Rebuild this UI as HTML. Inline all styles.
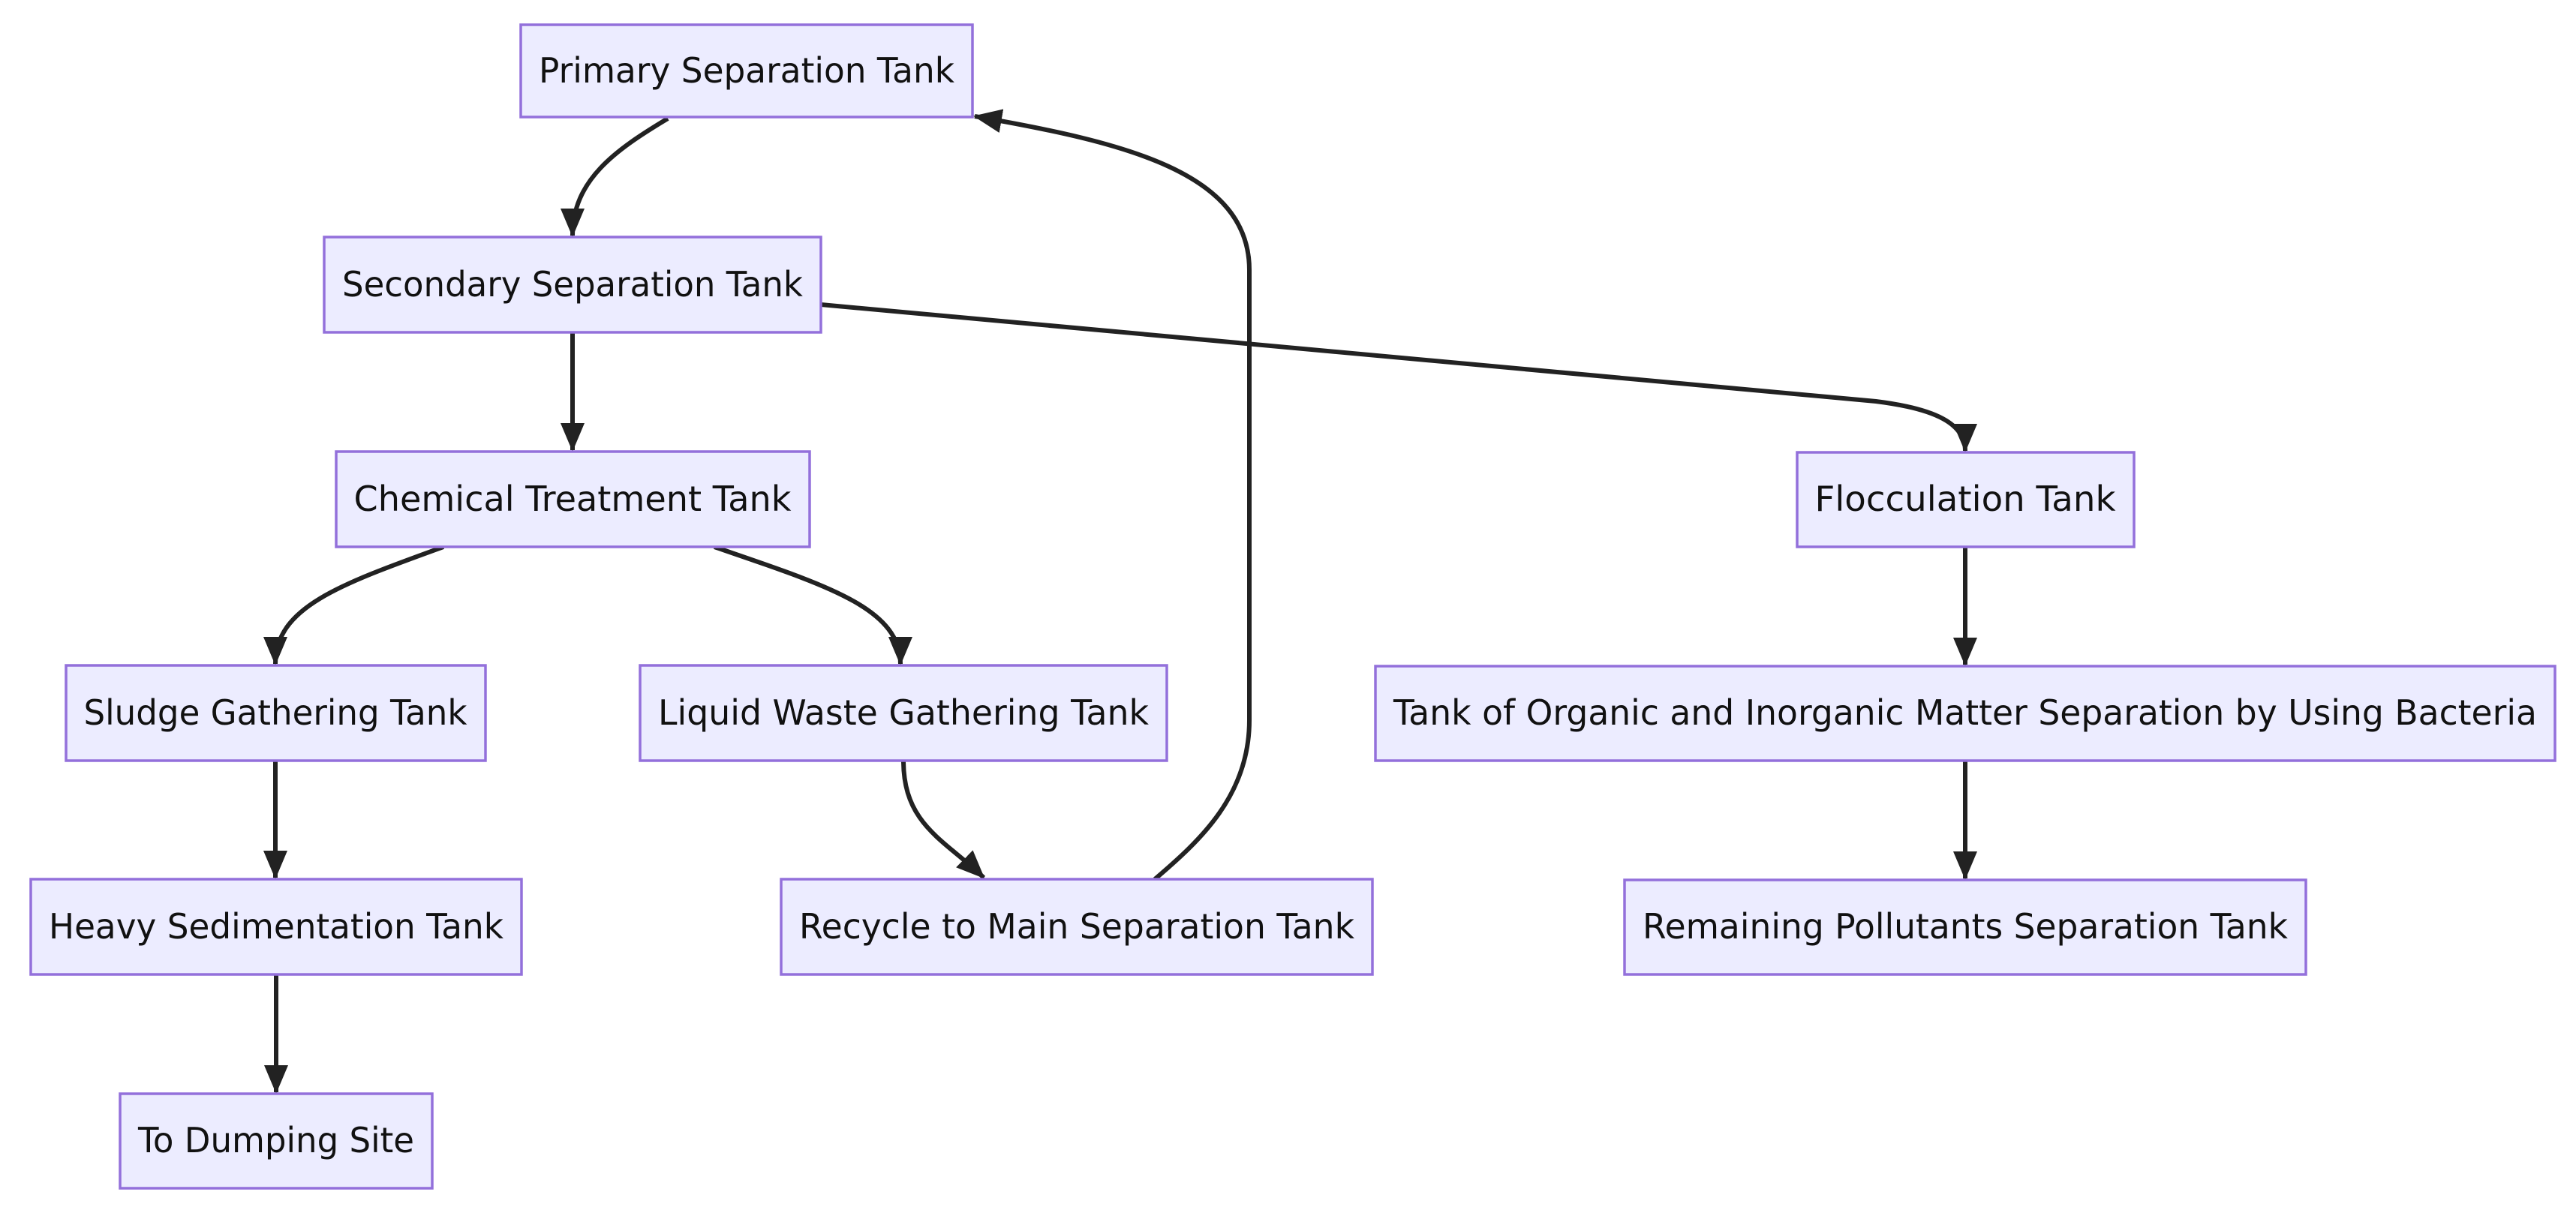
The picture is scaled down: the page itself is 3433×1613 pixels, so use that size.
<!DOCTYPE html>
<html><head><meta charset="utf-8"><style>html,body{margin:0;padding:0;background:#fff}svg{display:block}</style></head>
<body>
<svg width="3433" height="1613" viewBox="0 0 3433 1613" xmlns="http://www.w3.org/2000/svg">
<defs>
<marker id="a" markerUnits="userSpaceOnUse" markerWidth="38" markerHeight="32" refX="36" refY="16" orient="auto">
<path d="M0,0 L38,16 L0,32 z" fill="#222"/>
</marker>
</defs>
<g fill="none" stroke="#222" stroke-width="6" marker-end="url(#a)">
<path d="M890,158 C820,200 763,240 763,314"/>
<path d="M763,443 L763,600"/>
<path d="M1094,406 L2500,535 C2580,545 2619,565 2619,601"/>
<path d="M591,729 C450,780 367,810 367,885"/>
<path d="M952,729 C1100,780 1200,810 1200,885"/>
<path d="M1204,1014 C1204,1100 1260,1120 1311,1170"/>
<path d="M1539,1172 C1600,1120 1665,1060 1665,960 L1665,360 C1665,230 1500,190 1299,155"/>
<path d="M367,1014 L367,1170"/>
<path d="M368,1299 L368,1456"/>
<path d="M2619,729 L2619,886"/>
<path d="M2619,1014 L2619,1171"/>
</g>
<g fill="#ECECFF" stroke="#9370DB" stroke-width="3.5">
<rect x="694" y="33" width="602" height="123"/>
<rect x="432" y="316" width="662" height="127"/>
<rect x="448" y="602" width="631" height="127"/>
<rect x="88" y="887" width="559" height="127"/>
<rect x="853" y="887" width="702" height="127"/>
<rect x="41" y="1172" width="654" height="127"/>
<rect x="1041" y="1172" width="788" height="127"/>
<rect x="160" y="1458" width="416" height="126"/>
<rect x="2395" y="603" width="449" height="126"/>
<rect x="1833" y="888" width="1572" height="126"/>
<rect x="2165" y="1173" width="908" height="126"/>
</g>
<g font-family="'DejaVu Sans','Liberation Sans',sans-serif" font-size="46" fill="#111" text-anchor="middle">
<text x="995" y="110" textLength="554" lengthAdjust="spacingAndGlyphs">Primary Separation Tank</text>
<text x="763" y="395" textLength="614" lengthAdjust="spacingAndGlyphs">Secondary Separation Tank</text>
<text x="763" y="681" textLength="583" lengthAdjust="spacingAndGlyphs">Chemical Treatment Tank</text>
<text x="367" y="966" textLength="511" lengthAdjust="spacingAndGlyphs">Sludge Gathering Tank</text>
<text x="1204" y="966" textLength="654" lengthAdjust="spacingAndGlyphs">Liquid Waste Gathering Tank</text>
<text x="368" y="1251" textLength="606" lengthAdjust="spacingAndGlyphs">Heavy Sedimentation Tank</text>
<text x="1435" y="1251" textLength="740" lengthAdjust="spacingAndGlyphs">Recycle to Main Separation Tank</text>
<text x="368" y="1536" textLength="368" lengthAdjust="spacingAndGlyphs">To Dumping Site</text>
<text x="2619" y="681" textLength="401" lengthAdjust="spacingAndGlyphs">Flocculation Tank</text>
<text x="2619" y="966" textLength="1524" lengthAdjust="spacingAndGlyphs">Tank of Organic and Inorganic Matter Separation by Using Bacteria</text>
<text x="2619" y="1251" textLength="860" lengthAdjust="spacingAndGlyphs">Remaining Pollutants Separation Tank</text>
</g>
</svg>
</body></html>
